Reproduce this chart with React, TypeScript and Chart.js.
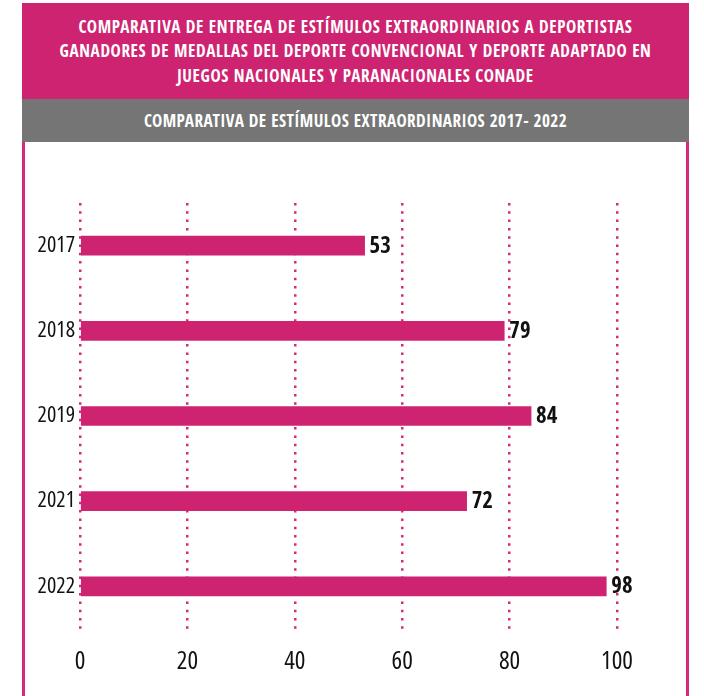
import React, { useEffect, useRef } from "react";
import { Chart, registerables } from "chart.js";

Chart.register(...registerables);

const TITLE_LINES = [
  "COMPARATIVA DE ENTREGA DE ESTÍMULOS EXTRAORDINARIOS A DEPORTISTAS",
  "GANADORES DE MEDALLAS DEL DEPORTE CONVENCIONAL Y DEPORTE ADAPTADO EN",
  "JUEGOS NACIONALES Y PARANACIONALES CONADE",
];
const SUBTITLE = "COMPARATIVA DE ESTÍMULOS EXTRAORDINARIOS 2017- 2022";
const YEARS = ["2017", "2018", "2019", "2021", "2022"];
const VALUES = [53, 79, 84, 72, 98];
const X_TICKS = [0, 20, 40, 60, 80, 100];

const PINK = "#CE2370";
const GRID_PINK = "#D42A78";
const GRAY = "#757575";
const FONT = "'Open Sans Condensed', 'Roboto Condensed', sans-serif";
const REG_FONT = "'Open Sans', sans-serif";

const valueLabels = {
  id: "valueLabels",
  afterDatasetsDraw(chart: any) {
    const ctx = chart.ctx;
    const meta = chart.getDatasetMeta(0);
    ctx.save();
    ctx.font = `bold 23px ${FONT}`;
    ctx.fillStyle = "#111";
    ctx.textAlign = "left";
    ctx.textBaseline = "middle";
    meta.data.forEach((bar: any, i: number) => {
      ctx.fillText(String(VALUES[i]), bar.x + 5, bar.y + 1);
    });
    ctx.restore();
  },
};

function BarChart() {
  const ref = useRef<HTMLCanvasElement | null>(null);
  useEffect(() => {
    if (!ref.current) return;
    const chart = new Chart(ref.current, {
      type: "bar",
      data: {
        labels: YEARS,
        datasets: [
          {
            data: VALUES,
            backgroundColor: PINK,
            borderWidth: 0,
            barThickness: 19,
          },
        ],
      },
      options: {
        indexAxis: "y",
        animation: false,
        responsive: false,
        maintainAspectRatio: false,
        layout: { padding: { top: 61, right: 69, bottom: 0, left: 0 } },
        plugins: {
          legend: { display: false },
          tooltip: { enabled: false },
        },
        scales: {
          x: {
            min: 0,
            max: 100,
            afterBuildTicks: (axis: any) => {
              axis.ticks = X_TICKS.map((v) => ({ value: v }));
            },
            afterFit: (axis: any) => {
              axis.height = 67;
            },
            grid: {
              display: true,
              color: GRID_PINK,
              lineWidth: 2.5,
              drawTicks: false,
            },
            border: { display: false, dash: [2.5, 5.8] },
            ticks: {
              color: "#111",
              font: { family: REG_FONT, size: 25, weight: "500 condensed" },
              padding: 18,
            },
          },
          y: {
            afterFit: (axis: any) => {
              axis.width = 55;
            },
            grid: { display: false, drawTicks: false },
            border: { display: false },
            ticks: {
              color: "#111",
              font: { family: REG_FONT, size: 22, weight: "500 condensed" },
              padding: 5,
            },
          },
        },
      },
      plugins: [valueLabels],
    } as any);
    return () => chart.destroy();
  }, []);
  return <canvas ref={ref} width={661} height={554} style={{ display: "block" }} />;
}

export default function App() {
  const titleCenters = [27, 51, 75.5];
  return (
    <div style={{ position: "absolute", left: 0, top: 0, width: 704, height: 696, background: "#fff", overflow: "hidden" }}>
      <div style={{ position: "absolute", left: 22, top: 3, width: 667, height: 96, background: PINK }}>
        {TITLE_LINES.map((t, i) => (
          <div
            key={i}
            style={{
              position: "absolute",
              left: 0,
              width: 667,
              top: titleCenters[i] - 3 - 12,
              height: 24,
              lineHeight: "24px",
              textAlign: "center",
              color: "#fff",
              fontFamily: FONT,
              fontWeight: "bold",
              fontSize: 17.2,
              letterSpacing: 0.6,
              whiteSpace: "nowrap",
            }}
          >
            {t}
          </div>
        ))}
      </div>
      <div
        style={{
          position: "absolute",
          left: 22,
          top: 99,
          width: 667,
          height: 43,
          background: GRAY,
          color: "#fff",
          fontFamily: FONT,
          fontWeight: "bold",
          fontSize: 17.2,
          letterSpacing: 0.4,
          lineHeight: "44px",
          textAlign: "center",
          whiteSpace: "nowrap",
        }}
      >
        {SUBTITLE}
      </div>
      <div
        style={{
          position: "absolute",
          left: 22,
          top: 142,
          width: 667,
          height: 554,
          boxSizing: "border-box",
          borderLeft: `3px solid ${GRID_PINK}`,
          borderRight: `3px solid ${GRID_PINK}`,
        }}
      >
        <BarChart />
      </div>
    </div>
  );
}
